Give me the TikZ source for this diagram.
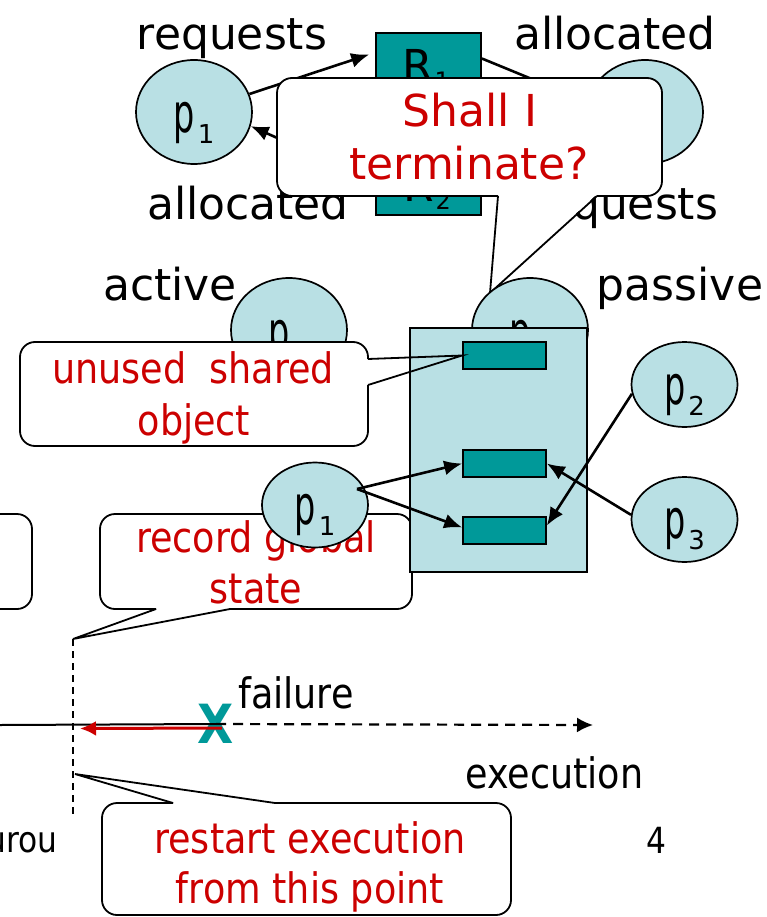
\documentclass[tikz,border=0pt]{standalone}
\usepackage{fontspec}
\setmainfont{DejaVu Sans}
\newfontfamily\comicfont{DejaVu Sans}
\newfontfamily\tahfont[FakeStretch=0.87]{DejaVu Sans}
\newfontfamily\pfont[FakeStretch=0.62]{DejaVu Sans}
\usetikzlibrary{shapes.geometric,arrows.meta}
\definecolor{cellblue}{RGB}{185,224,228}
\definecolor{resteal}{RGB}{0,153,153}
\definecolor{callred}{RGB}{204,0,0}
\newcommand{\pname}[1]{{\pfont\fontsize{54}{54}\selectfont p}\kern3pt\raisebox{-11pt}{\fontsize{26}{26}\selectfont #1}}
\newcommand{\rname}[1]{R\kern2pt\raisebox{-8pt}{\fontsize{24}{24}\selectfont #1}}
\tikzset{
  proc/.style={ellipse, draw, fill=cellblue, line width=1.7pt, inner sep=0pt},
  bigproc/.style={proc, minimum width=116pt, minimum height=104pt},
  smallproc/.style={proc, minimum width=106pt, minimum height=85pt},
  res/.style={rectangle, draw, fill=resteal, line width=1.7pt, inner sep=0pt},
  arr/.style={-{Latex[length=18pt,width=15pt]}, line width=2.6pt},
  comic/.style={font=\comicfont\fontsize{44}{53}\selectfont, inner sep=0pt},
  tah/.style={font=\tahfont\fontsize{42}{51}\selectfont, inner sep=0pt},
  comiccall/.style={comic, text=callred},
  tahcall/.style={tah, text=callred},
  bubble/.style={line width=1.8pt, rounded corners=15pt},
  tip/.style={line width=1.8pt},
}

\begin{document}
\begin{tikzpicture}[x=1pt,y=-1pt]
        \useasboundingbox (0,0) rectangle (766,917);
        \clip (0,0) rectangle (766,917);

        \node[bigproc, label={[yshift=-11pt]center:\pname{1}}] (tp1) at (194,112) {};
        \node[bigproc, label={[yshift=-11pt]center:\pname{2}}] (tp2) at (645,112) {};
        \node[res, minimum width=105pt, minimum height=67pt] (R1) at (428.5,66.5) {};
        \node[res, minimum width=105pt, minimum height=67pt] (R2) at (428.5,181.5) {};
        \node[comic, anchor=base] (r1txt) at (426,82) {\rname{1}};
        \node[comic, anchor=base] (r2txt) at (427,202) {\rname{2}};
        \draw[arr] (tp1.18) -- ([xshift=-6pt,yshift=12pt]R1.west);
        \draw[arr] (R2.west) -- (tp1.-14);
        \draw[arr] ([yshift=8pt]R1.east) -- (tp2.170);
        \node[comic, anchor=base] (req1) at (232,50) {requests};
        \node[comic, anchor=base] (all1) at (615,50) {allocated};
        \node[comic, anchor=base] (all2) at (248,220) {allocated};
        \node[comic, anchor=base] (req2) at (623,220) {requests};

        \coordinate (shtip) at (490,293);
        \fill[white, rounded corners=15pt] (277,78) rectangle (662,196);
        \fill[white] (498,194) -- (shtip) -- (597,194) -- cycle;
        \draw[bubble] (597,196) -- (662,196) -- (662,78) -- (277,78) -- (277,196) -- (498,196);
        \draw[tip] (498,196) -- (shtip) -- (597,196);
        \node[comiccall, anchor=base] (sh1) at (470,127) {Shall I};
        \node[comiccall, anchor=base] (sh2) at (469,180) {terminate?};

        \node[bigproc, label={[yshift=-11pt]center:\pname{1}}] (ap1) at (289,330) {};
        \node[bigproc, label={[yshift=-11pt]center:\pname{2}}] (pp2) at (530,330) {};
        \node[comic, anchor=base] (act) at (170,300) {active};
        \node[comic, anchor=base] (pas) at (680,300) {passive};

        \draw[bubble, fill=white] (-200,514) rectangle (32,609);
        \coordinate (rectip) at (73,639);
        \fill[white, rounded corners=15pt] (100,514) rectangle (412,609);
        \draw[bubble] (230,609) -- (412,609) -- (412,514) -- (100,514) -- (100,609) -- (156,609);
        \draw[tip] (156,609) -- (rectip) -- (230,609);
        \node[tahcall, anchor=base] (rg1) at (256,552) {record global};
        \node[tahcall, anchor=base] (rg2) at (256,603) {state};

        \node[rectangle, draw, fill=cellblue, line width=1.7pt, inner sep=0pt,
              minimum width=177pt, minimum height=244pt] (store) at (498.5,450) {};
        \node[res, minimum width=83pt, minimum height=27pt] (s1) at (504.5,355.5) {};
        \node[res, minimum width=83pt, minimum height=27pt] (s2) at (504.5,463.5) {};
        \node[res, minimum width=83pt, minimum height=27pt] (s3) at (504.5,530.5) {};

        \fill[white, rounded corners=15pt] (20,342) rectangle (368,446);
        \draw[bubble] (368,385) -- (368,446) -- (20,446) -- (20,342) -- (368,342) -- (368,359);
        \draw[tip] (368,359) -- (s1.west) -- (368,385);
        \node[tahcall, anchor=base] (un1) at (193,383) {unused~ shared};
        \node[tahcall, anchor=base] (un2) at (194,435) {object};

        \node[smallproc, label={[yshift=-10pt]center:\pname{1}}] (q1) at (315,505) {};
        \node[smallproc, label={[yshift=-10pt]center:\pname{2}}] (q2) at (684.5,384.5) {};
        \node[smallproc, label={[yshift=-10pt]center:\pname{3}}] (q3) at (684.5,519.5) {};
        \coordinate (q1out) at ([shift={(42,-16)}]q1.center);
        \draw[arr] (q1out) -- (s2.west);
        \draw[arr] (q1out) -- ([yshift=3pt]s3.west);
        \draw[arr] (q3.175) -- (s2.east);
        \draw[arr] (q2.190) -- ([yshift=5pt]s3.east);

        \coordinate (dend) at (73,817);
        \draw[line width=1.5pt, dash pattern=on 7pt off 5pt] (rectip) -- (dend);
        \coordinate (tl0) at (0,725);
        \coordinate (tlend) at (593,725);
        \coordinate (redend) at (80,728.5);
        \node[font=\tahfont\bfseries\fontsize{54}{54}\selectfont, text=resteal, inner sep=0pt] (fail) at (216,724) {X};
        \draw[line width=2pt] (tl0) -- (fail.center);
        \draw[line width=2.2pt, dash pattern=on 10pt off 7pt, -{Latex[length=16pt,width=15pt]}] (fail.center) -- (tlend);
        \draw[callred, line width=3pt, -{Latex[length=16pt,width=15pt]}] ([shift={(6,4)}]fail.center) -- (redend);
        \node[tah, anchor=base west] (flab) at (238,708) {failure};
        \node[tah, anchor=base west] (elab) at (465,788) {execution};

        \coordinate (rstip) at (75,774);
        \fill[white, rounded corners=15pt] (102,803) rectangle (511,915);
        \draw[bubble] (275,803) -- (511,803) -- (511,915) -- (102,915) -- (102,803) -- (173,803);
        \draw[tip] (173,803) -- (rstip) -- (275,803);
        \node[tahcall, anchor=base] (rs1) at (310,853) {restart execution};
        \node[tahcall, anchor=base] (rs2) at (310,903) {from this point};

        \node[tah, font=\tahfont\fontsize{36}{40}\selectfont, anchor=base] (pnum) at (656,853) {4};
        \node[tah, font=\tahfont\fontsize{36}{40}\selectfont, anchor=base east] (foot) at (58,852) {urou};
      \end{tikzpicture}
\end{document}
